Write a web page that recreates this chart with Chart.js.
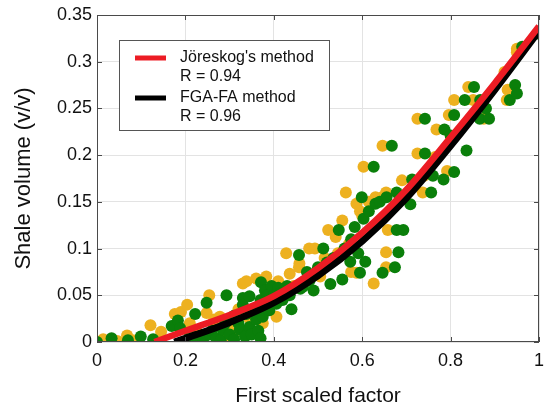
<!DOCTYPE html>
<html>
<head>
<meta charset="utf-8">
<script src="https://cdn.jsdelivr.net/npm/chart.js@4.4.1/dist/chart.umd.min.js"></script>
<style>
  html, body { margin: 0; padding: 0; background: #fff; }
  #wrap { width: 545px; height: 410px; }
</style>
</head>
<body>
<div id="wrap"><canvas id="chart_vsh" width="545" height="410"></canvas></div>
<script>
// axis ticks
const xTicks = [0, 0.2, 0.4, 0.6, 0.8, 1];
const yTicks = [0, 0.05, 0.1, 0.15, 0.2, 0.25, 0.3, 0.35];

// legend text
const lineNames = ["Jöreskog's method", 'FGA-FA method'];
const lineR = ['R = 0.94', 'R = 0.96'];

// fitted curves
const joreskogX = [0.13, 0.2, 0.3, 0.4, 0.5, 0.6, 0.7, 0.8, 0.9, 1.0];
const joreskogY = [0, 0.012, 0.029, 0.049, 0.079, 0.117, 0.163, 0.219, 0.277, 0.338];
const fgaX = [0.175, 0.2, 0.3, 0.4, 0.5, 0.6, 0.7, 0.8, 0.9, 1.0];
const fgaY = [0, 0.004, 0.021, 0.042, 0.071, 0.108, 0.154, 0.21, 0.27, 0.333];

// scatter samples [factor, vsh]
const orangeDots = [
  [0.014, 0.003], [0.046, 0.001], [0.068, 0.007], [0.081, 0.002], [0.121, 0.018], [0.145, 0.011],
  [0.176, 0.03], [0.19, 0.032], [0.204, 0.04], [0.21, 0.02], [0.225, 0.012], [0.248, 0.031],
  [0.254, 0.05], [0.265, 0.024], [0.278, 0.027], [0.29, 0.005], [0.3, 0.02], [0.308, 0.009],
  [0.32, 0.035], [0.33, 0.0625], [0.338, 0.065], [0.345, 0.025], [0.36, 0.068], [0.375, 0.02],
  [0.383, 0.07], [0.39, 0.045], [0.406, 0.027], [0.41, 0.065], [0.428, 0.095], [0.436, 0.073],
  [0.445, 0.06], [0.457, 0.08], [0.458, 0.084], [0.47, 0.065], [0.48, 0.1], [0.493, 0.1],
  [0.505, 0.07], [0.515, 0.09], [0.523, 0.12], [0.54, 0.1125], [0.545, 0.095], [0.555, 0.13],
  [0.563, 0.16], [0.57, 0.105], [0.575, 0.075], [0.587, 0.148], [0.587, 0.074], [0.595, 0.14],
  [0.603, 0.1875], [0.6, 0.135], [0.615, 0.15], [0.626, 0.0625], [0.63, 0.155], [0.646, 0.21],
  [0.645, 0.155], [0.654, 0.16], [0.658, 0.12], [0.654, 0.096], [0.654, 0.08], [0.69, 0.173],
  [0.725, 0.239], [0.725, 0.2018], [0.737, 0.16], [0.74, 0.178], [0.765, 0.198], [0.768, 0.2275],
  [0.792, 0.183], [0.796, 0.243], [0.808, 0.259], [0.84, 0.273], [0.851, 0.259], [0.875, 0.239],
  [0.922, 0.289], [0.927, 0.259], [0.929, 0.27], [0.95, 0.314], [0.95, 0.31]
];
const greenDots = [
  [0, 0], [0.033, 0.004], [0.07, 0.002], [0.099, 0.006], [0.127, 0.003], [0.169, 0.017],
  [0.183, 0.023], [0.188, 0.015], [0.21, 0.009], [0.215, 0.002], [0.222, 0.03], [0.2325, 0.006],
  [0.24, 0.001], [0.248, 0.042], [0.255, 0.008], [0.26, 0.012], [0.27, 0.004], [0.28, 0.002],
  [0.285, 0.013], [0.29, 0.02], [0.293, 0.05], [0.3, 0.008], [0.31, 0.003], [0.31, 0.028],
  [0.32, 0.02], [0.323, 0.013], [0.33, 0.047], [0.33, 0.04], [0.335, 0.006], [0.338, 0.03],
  [0.345, 0.016], [0.345, 0.049], [0.35, 0.008], [0.355, 0.035], [0.36, 0.024], [0.365, 0.012],
  [0.37, 0.004], [0.37, 0.045], [0.371, 0.064], [0.375, 0.027], [0.38, 0.055], [0.385, 0.05],
  [0.39, 0.034], [0.395, 0.06], [0.4, 0.05], [0.406, 0.041], [0.41, 0.058], [0.415, 0.052],
  [0.42, 0.045], [0.43, 0.06], [0.436, 0.05], [0.44, 0.035], [0.457, 0.093], [0.46, 0.057],
  [0.466, 0.059], [0.475, 0.075], [0.481, 0.066], [0.49, 0.055], [0.496, 0.073], [0.5, 0.08],
  [0.512, 0.1], [0.52, 0.085], [0.528, 0.062], [0.535, 0.09], [0.547, 0.12], [0.555, 0.067],
  [0.56, 0.1], [0.573, 0.086], [0.575, 0.11], [0.583, 0.123], [0.591, 0.095], [0.595, 0.074],
  [0.599, 0.155], [0.603, 0.132], [0.607, 0.086], [0.615, 0.14], [0.626, 0.1875], [0.63, 0.148],
  [0.64, 0.15], [0.646, 0.074], [0.655, 0.155], [0.667, 0.21], [0.674, 0.08], [0.678, 0.16],
  [0.678, 0.12], [0.682, 0.096], [0.693, 0.12], [0.709, 0.1475], [0.713, 0.174], [0.742, 0.239],
  [0.742, 0.2018], [0.756, 0.16], [0.76, 0.178], [0.784, 0.174], [0.786, 0.2275], [0.8, 0.221],
  [0.808, 0.243], [0.808, 0.182], [0.832, 0.259], [0.836, 0.205], [0.853, 0.273], [0.867, 0.259],
  [0.866, 0.239], [0.887, 0.239], [0.88, 0.25], [0.934, 0.259], [0.946, 0.275], [0.95, 0.266],
  [0.962, 0.316], [1.0, 0.33]
];

const ORANGE = '#EDB120';
const GREEN = '#0A7F0A';
const RED = '#EC1C24';
const BLACK = '#000000';
const FONT = '"Liberation Sans", Arial, Helvetica, sans-serif';

const toXY = (xs, ys) => xs.map((x, i) => ({ x: x, y: ys[i] }));
const pairs = arr => arr.map(p => ({ x: p[0], y: p[1] }));

// box around the axes plus inward ticks (matlab look)
const frameBox = {
  id: 'frameBox',
  afterDatasetsDraw(chart) {
    const { ctx, chartArea: a, scales } = chart;
    ctx.save();
    ctx.strokeStyle = '#4a4a4a';
    ctx.lineWidth = 1;
    ctx.strokeRect(a.left + 0.5, a.top + 0.5, a.right - a.left - 1, a.bottom - a.top - 1);
    ctx.beginPath();
    xTicks.forEach(v => {
      const px = Math.round(scales.x.getPixelForValue(v)) + 0.5;
      ctx.moveTo(px, a.bottom); ctx.lineTo(px, a.bottom - 5);
      ctx.moveTo(px, a.top); ctx.lineTo(px, a.top + 5);
    });
    yTicks.forEach(v => {
      const py = Math.round(scales.y.getPixelForValue(v)) + 0.5;
      ctx.moveTo(a.left, py); ctx.lineTo(a.left + 5, py);
      ctx.moveTo(a.right, py); ctx.lineTo(a.right - 5, py);
    });
    ctx.stroke();
    ctx.restore();
  }
};

// legend box in upper left
const legendBox = {
  id: 'legendBox',
  afterDraw(chart) {
    const { ctx } = chart;
    const bx = 119, by = 40, bw = 210, bh = 90;
    ctx.save();
    ctx.fillStyle = '#ffffff';
    ctx.fillRect(bx, by, bw, bh);
    ctx.strokeStyle = '#555555';
    ctx.lineWidth = 1;
    ctx.strokeRect(bx + 0.5, by + 0.5, bw, bh);
    const colors = [RED, BLACK];
    ctx.font = '16px ' + FONT;
    ctx.textBaseline = 'middle';
    ctx.fillStyle = '#111';
    lineNames.forEach((name, i) => {
      const y0 = by + 18 + i * 40;
      ctx.strokeStyle = colors[i];
      ctx.lineWidth = 5;
      ctx.beginPath();
      ctx.moveTo(135, y0); ctx.lineTo(166, y0);
      ctx.stroke();
      ctx.fillText(name, 180, y0);
      ctx.fillText(lineR[i], 180, y0 + 19);
    });
    ctx.restore();
  }
};

const ctx = document.getElementById('chart_vsh').getContext('2d');
new Chart(ctx, {
  type: 'scatter',
  data: {
    datasets: [
      {
        label: lineNames[0],
        data: toXY(joreskogX, joreskogY),
        showLine: true,
        borderColor: RED,
        borderWidth: 6.5,
        pointRadius: 0,
        cubicInterpolationMode: 'monotone',
        order: 0,
      },
      {
        label: lineNames[1],
        data: toXY(fgaX, fgaY),
        showLine: true,
        borderColor: BLACK,
        borderWidth: 7,
        pointRadius: 0,
        cubicInterpolationMode: 'monotone',
        order: 1,
      },
      {
        label: 'green',
        data: pairs(greenDots),
        backgroundColor: GREEN,
        borderWidth: 0,
        pointRadius: 6,
        order: 2,
      },
      {
        label: 'orange',
        data: pairs(orangeDots),
        backgroundColor: ORANGE,
        borderWidth: 0,
        pointRadius: 6,
        order: 3,
      },
    ],
  },
  options: {
    responsive: false,
    animation: false,
    devicePixelRatio: 1,
    layout: { padding: { top: 15, right: 5, left: 0, bottom: 0 } },
    plugins: {
      legend: { display: false },
      tooltip: { enabled: false },
    },
    scales: {
      x: {
        type: 'linear',
        min: 0,
        max: 1,
        afterBuildTicks: s => { s.ticks = xTicks.map(v => ({ value: v })); },
        afterFit: s => { s.height = 68; s.paddingRight = 0; s.paddingLeft = 0; },
        ticks: {
          color: '#111',
          font: { family: FONT, size: 18 },
          padding: 8,
          maxRotation: 0,
          callback: v => String(v),
        },
        grid: { color: '#e3e3e3', drawTicks: false },
        border: { display: false },
        title: {
          display: true,
          text: 'First scaled factor',
          color: '#111',
          font: { family: FONT, size: 21 },
          padding: { top: 0, bottom: 1 },
        },
      },
      y: {
        type: 'linear',
        min: 0,
        max: 0.35,
        afterBuildTicks: s => { s.ticks = yTicks.map(v => ({ value: v })); },
        afterFit: s => { s.width = 97; s.paddingTop = 0; s.paddingBottom = 0; },
        ticks: {
          color: '#111',
          font: { family: FONT, size: 18 },
          padding: 5,
          callback: v => String(v),
        },
        grid: { color: '#e3e3e3', drawTicks: false },
        border: { display: false },
        title: {
          display: true,
          text: 'Shale volume (v/v)',
          color: '#111',
          font: { family: FONT, size: 22 },
          padding: { top: 11, bottom: 0 },
        },
      },
    },
  },
  plugins: [frameBox, legendBox],
});
</script>
</body>
</html>
